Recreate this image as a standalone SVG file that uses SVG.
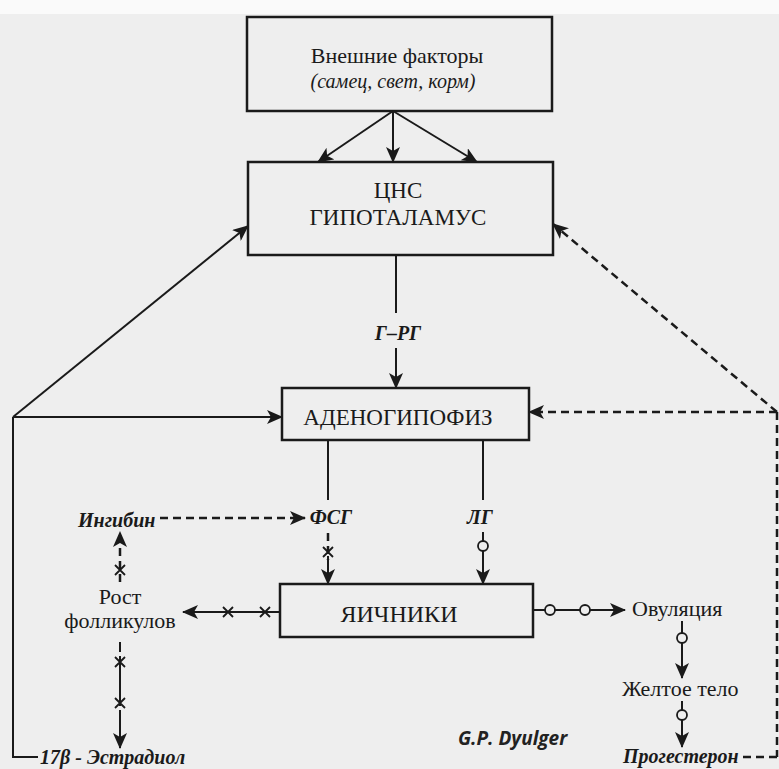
<svg xmlns="http://www.w3.org/2000/svg" width="779" height="769" viewBox="0 0 779 769">
<defs>
<style>
.box{fill:none;stroke:#1a1a1a;stroke-width:2.5}
.ln{fill:none;stroke:#1a1a1a;stroke-width:2}
.ds{fill:none;stroke:#1a1a1a;stroke-width:2.5;stroke-dasharray:8 5}
.t{font-family:"Liberation Serif","DejaVu Serif",serif;fill:#1a1a1a;text-anchor:middle}
.s{font-family:"Liberation Serif","DejaVu Serif",serif;fill:#1a1a1a;text-anchor:start}
.h{font-family:"Liberation Serif","DejaVu Serif",serif;fill:#1a1a1a;font-style:italic;font-weight:bold}
.ci{fill:#eeeeee;stroke:#1a1a1a;stroke-width:1.8}
.x{fill:none;stroke:#1a1a1a;stroke-width:1.8}
</style>
<marker id="a" markerUnits="userSpaceOnUse" markerWidth="16" markerHeight="14" refX="15" refY="7" orient="auto">
<path d="M0,0 L16,7 L0,14 L4,7 Z" fill="#1a1a1a"/>
</marker>
</defs>
<rect width="779" height="769" fill="#eeeeee"/>
<rect width="779" height="14" fill="#fafafa"/>

<g id="external">
<rect class="box" x="247" y="17" width="305" height="94"/>
<text class="t" x="397" y="63" font-size="22">Внешние факторы</text>
<text class="t" x="393" y="88" font-size="20" font-style="italic">(самец, свет, корм)</text>
</g>
<g id="cns">
<rect class="box" x="248" y="162" width="305" height="93"/>
<text class="t" x="398" y="198" font-size="23">ЦНС</text>
<text class="t" x="398" y="225" font-size="23">ГИПОТАЛАМУС</text>
</g>
<g id="grg"><text class="h" x="398" y="340" font-size="20" text-anchor="middle">Г–РГ</text></g>
<g id="adeno">
<rect class="box" x="282" y="388" width="247" height="52"/>
<text class="t" x="398" y="425" font-size="23">АДЕНОГИПОФИЗ</text>
</g>
<g id="fsg"><text class="h" x="331" y="524" font-size="20" text-anchor="middle">ФСГ</text></g>
<g id="lg"><text class="h" x="480" y="524" font-size="20" text-anchor="middle">ЛГ</text></g>
<g id="inhibin"><text class="h" x="78" y="527" font-size="20">Ингибин</text></g>
<g id="ovaries">
<rect class="box" x="280" y="584" width="253" height="53"/>
<text class="t" x="399" y="622" font-size="24">ЯИЧНИКИ</text>
</g>
<g id="follicles">
<text class="t" x="120" y="604" font-size="22">Рост</text>
<text class="t" x="120" y="628" font-size="22">фолликулов</text>
</g>
<g id="ovulation"><text class="s" x="632" y="616" font-size="22">Овуляция</text></g>
<g id="corpus"><text class="s" x="622" y="696" font-size="22">Желтое тело</text></g>
<g id="progesterone"><text class="h" x="623" y="763" font-size="20">Прогестерон</text></g>
<g id="estradiol"><text class="h" x="40" y="764" font-size="20">17β - Эстрадиол</text></g>
<g id="author"><text x="458" y="745" font-family="'Open Sans','DejaVu Sans',sans-serif" font-size="19" font-weight="bold" font-style="italic" fill="#222">G.P. Dyulger</text></g>

<g id="connectors">
<line class="ln" x1="393" y1="111" x2="318" y2="162" marker-end="url(#a)"/>
<line class="ln" x1="393" y1="111" x2="393" y2="162" marker-end="url(#a)"/>
<line class="ln" x1="393" y1="111" x2="477" y2="162" marker-end="url(#a)"/>
<line class="ln" x1="396" y1="255" x2="396" y2="313"/>
<line class="ln" x1="396" y1="348" x2="396" y2="388" marker-end="url(#a)"/>
<line class="ln" x1="13" y1="417" x2="248" y2="226" marker-end="url(#a)"/>
<line class="ln" x1="13" y1="417" x2="282" y2="417" marker-end="url(#a)"/>
<polyline class="ln" points="13,417 13,757 38,757"/>
<line class="ds" x1="777" y1="412" x2="553" y2="224" marker-end="url(#a)"/>
<line class="ds" x1="777" y1="412" x2="529" y2="412" marker-end="url(#a)"/>
<line class="ds" x1="777" y1="412" x2="777" y2="757"/>
<line class="ds" x1="743" y1="757" x2="779" y2="757"/>
<line class="ln" x1="328" y1="440" x2="328" y2="500"/>
<line class="ln" x1="483" y1="440" x2="483" y2="500"/>
<line class="ds" x1="160" y1="518" x2="305" y2="518" marker-end="url(#a)"/>
<line class="ds" x1="328" y1="533" x2="328" y2="560" stroke-dasharray="6 4"/>
<line class="ln" x1="328" y1="556" x2="328" y2="584" marker-end="url(#a)"/>
<path class="x" d="M323,547 L333,557 M333,547 L323,557"/>
<line class="ln" x1="483" y1="532" x2="483" y2="584" marker-end="url(#a)"/>
<circle class="ci" cx="483" cy="546" r="5"/>
<line class="ds" x1="120" y1="582" x2="120" y2="532" stroke-dasharray="6 4" marker-end="url(#a)"/>
<path class="x" d="M115,565 L125,575 M125,565 L115,575"/>
<line class="ln" x1="280" y1="612" x2="183" y2="612" marker-end="url(#a)"/>
<path class="x" d="M223,607 L233,617 M233,607 L223,617 M260,607 L270,617 M270,607 L260,617"/>
<line class="ln" x1="120" y1="642" x2="120" y2="748" stroke-dasharray="10 4 40 0" marker-end="url(#a)"/>
<path class="x" d="M115,657 L125,667 M125,657 L115,667 M115,698 L125,708 M125,698 L115,708"/>
<line class="ln" x1="533" y1="610" x2="625" y2="610" marker-end="url(#a)"/>
<circle class="ci" cx="550" cy="610" r="5"/>
<circle class="ci" cx="585" cy="610" r="5"/>
<line class="ln" x1="682" y1="621" x2="682" y2="678" marker-end="url(#a)"/>
<circle class="ci" cx="682" cy="638" r="5"/>
<line class="ln" x1="682" y1="701" x2="682" y2="747" marker-end="url(#a)"/>
<circle class="ci" cx="682" cy="715" r="5"/>
</g>
</svg>
